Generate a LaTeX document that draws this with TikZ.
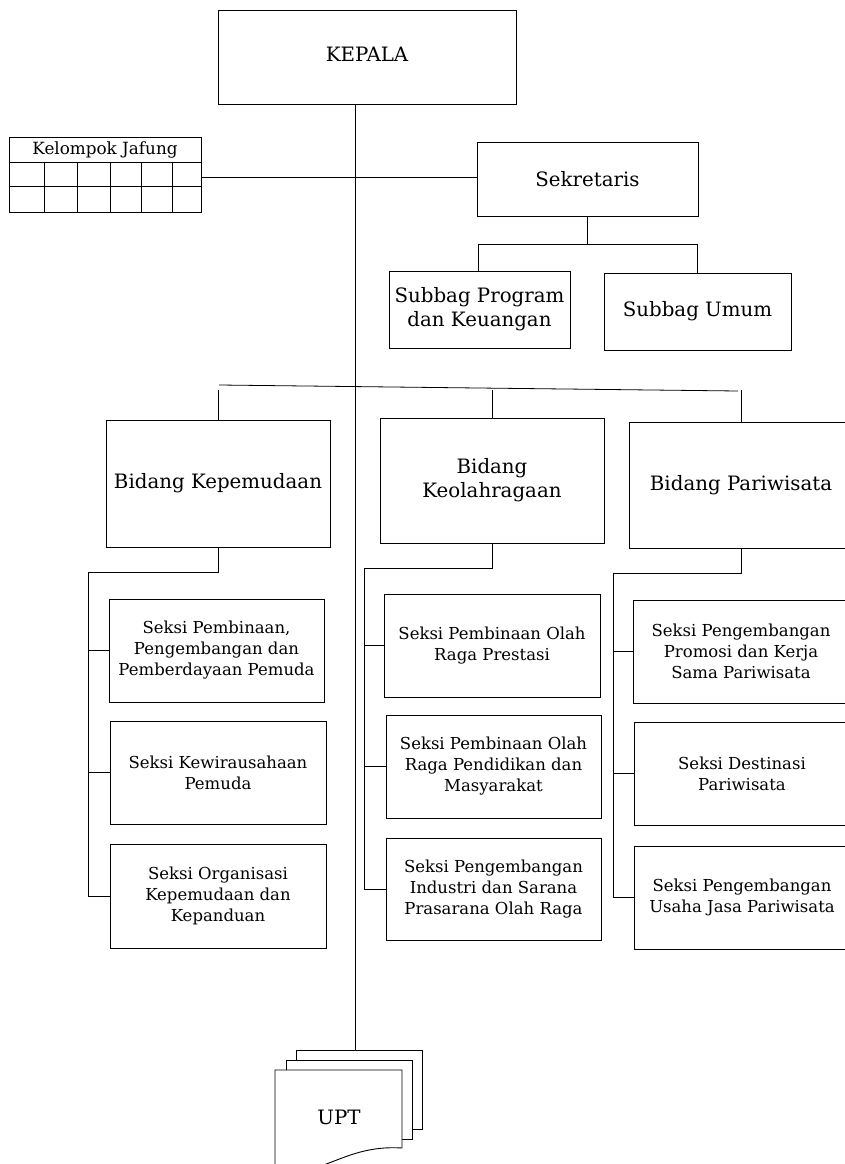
\documentclass[tikz,border=0pt]{standalone}
\usepackage{fontspec}
\setmainfont{DejaVu Serif}
\begin{document}
\begin{tikzpicture}[x=1pt,y=-1pt,
  box/.style={draw, line width=0.9pt, inner sep=0pt, align=center, fill=white},
  big/.style={font=\fontsize{19.8}{24}\selectfont},
  small/.style={font=\fontsize{16.5}{21}\selectfont},
  conn/.style={line width=0.8pt}]
\useasboundingbox (0,0) rectangle (845,1164);
\clip (0,0) rectangle (845,1164);

% top level
\node[box, big, minimum width=298pt, minimum height=94pt] (kepala) at (367,57) {\raisebox{6pt}{KEPALA}};
\node[box, minimum width=192pt, minimum height=75pt] (kj) at (105,174.5) {};
\node[font=\fontsize{16.8}{20}\selectfont] (kjt) at (105,149.5) {Kelompok Jafung};
\node[box, big, minimum width=221pt, minimum height=74pt] (sek) at (587.5,179) {Sekretaris};
\node[box, big, minimum width=181pt, minimum height=77pt] (spp) at (479.5,309.5) {Subbag Program\\dan Keuangan};
\node[box, big, minimum width=187pt, minimum height=77pt] (sum) at (697.5,311.5) {Subbag Umum};

% bidang
\node[box, big, minimum width=224pt, minimum height=127pt] (bk) at (218,483.5) {Bidang Kepemudaan};
\node[box, big, minimum width=224pt, minimum height=125pt] (bo) at (492,480.5) {Bidang\\Keolahragaan};
\node[box, big, minimum width=224pt, minimum height=126pt] (bp) at (741,485) {Bidang Pariwisata};

% seksi col 1
\node[box, small, minimum width=215pt, minimum height=103pt] (s11) at (216.5,650.5) {Seksi Pembinaan,\\Pengembangan dan\\Pemberdayaan Pemuda};
\node[box, small, minimum width=216pt, minimum height=103pt] (s12) at (218,772.5) {Seksi Kewirausahaan\\Pemuda};
\node[box, small, minimum width=216pt, minimum height=104pt] (s13) at (218,896) {Seksi Organisasi\\Kepemudaan dan\\Kepanduan};
% seksi col 2
\node[box, small, minimum width=216pt, minimum height=103pt] (s21) at (492,645.5) {Seksi Pembinaan Olah\\Raga Prestasi};
\node[box, small, minimum width=215pt, minimum height=103pt] (s22) at (493.5,766.5) {Seksi Pembinaan Olah\\Raga Pendidikan dan\\Masyarakat};
\node[box, small, minimum width=215pt, minimum height=102pt] (s23) at (493.5,889) {Seksi Pengembangan\\Industri dan Sarana\\Prasarana Olah Raga};
% seksi col 3
\node[box, small, minimum width=216pt, minimum height=103pt] (s31) at (741,651.5) {Seksi Pengembangan\\Promosi dan Kerja\\Sama Pariwisata};
\node[box, small, minimum width=216pt, minimum height=103pt] (s32) at (742,773.5) {Seksi Destinasi\\Pariwisata};
\node[box, small, minimum width=216pt, minimum height=103pt] (s33) at (742,897.5) {Seksi Pengembangan\\Usaha Jasa Pariwisata};

% UPT stack
\node[box, minimum width=126pt, minimum height=79pt] (upt3) at (359,1089.5) {};
\node[box, minimum width=126pt, minimum height=79pt] (upt2) at (349,1099.5) {};
\draw[line width=0.9pt, fill=white] (275,1190) -- (275,1070) -- (402,1070) -- (402,1148)
  .. controls (370,1146) and (350,1155) .. (329,1163)
  .. controls (305,1172) and (290,1176) .. (275,1174);
\node[big] (upt) at (339,1117) {UPT};

% Kelompok Jafung grid
\draw[conn] (kj.west |- 0,162) -- (kj.east |- 0,162);
\draw[conn] (kj.west |- 0,186) -- (kj.east |- 0,186);
\foreach \cx in {44,77,110,141,172} \draw[conn] (\cx,162) -- (\cx,212);

% connectors
\coordinate (mx) at (355,0);
\draw[conn] (kepala.south -| mx) -- (upt3.north -| mx);
\draw[conn] (kj.east |- 0,177) -- (sek.west |- 0,177);

\coordinate (sbar) at (0,244);
\draw[conn] (sek.south) -- (sek.south |- sbar);
\draw[conn] (spp.north -| 478,0) -- (478,244) -- (sum.north |- sbar) -- (sum.north);

\coordinate (busL) at (219,385);
\coordinate (busR) at (738,391);
\coordinate (tickY) at (0,390);
\draw[conn] (busL) -- (busR);
\draw[conn] (bk.north) -- (bk.north |- tickY);
\draw[conn] (bo.north) -- (bo.north |- tickY);
\draw[conn] (bp.north) -- (bp.north |- tickY);

\coordinate (k1) at (88,572);
\coordinate (k2) at (364,568);
\coordinate (k3) at (613,573);
\draw[conn] (bk.south) |- (k1) -- (k1 |- s13.west);
\draw[conn] (bo.south) |- (k2) -- (k2 |- s23.west);
\draw[conn] (bp.south) |- (k3) -- (k3 |- s33.west);
\foreach \s in {s11,s12,s13} \draw[conn] (k1 |- \s.west) -- (\s.west);
\foreach \s in {s21,s22,s23} \draw[conn] (k2 |- \s.west) -- (\s.west);
\foreach \s in {s31,s32,s33} \draw[conn] (k3 |- \s.west) -- (\s.west);
\end{tikzpicture}
\end{document}
